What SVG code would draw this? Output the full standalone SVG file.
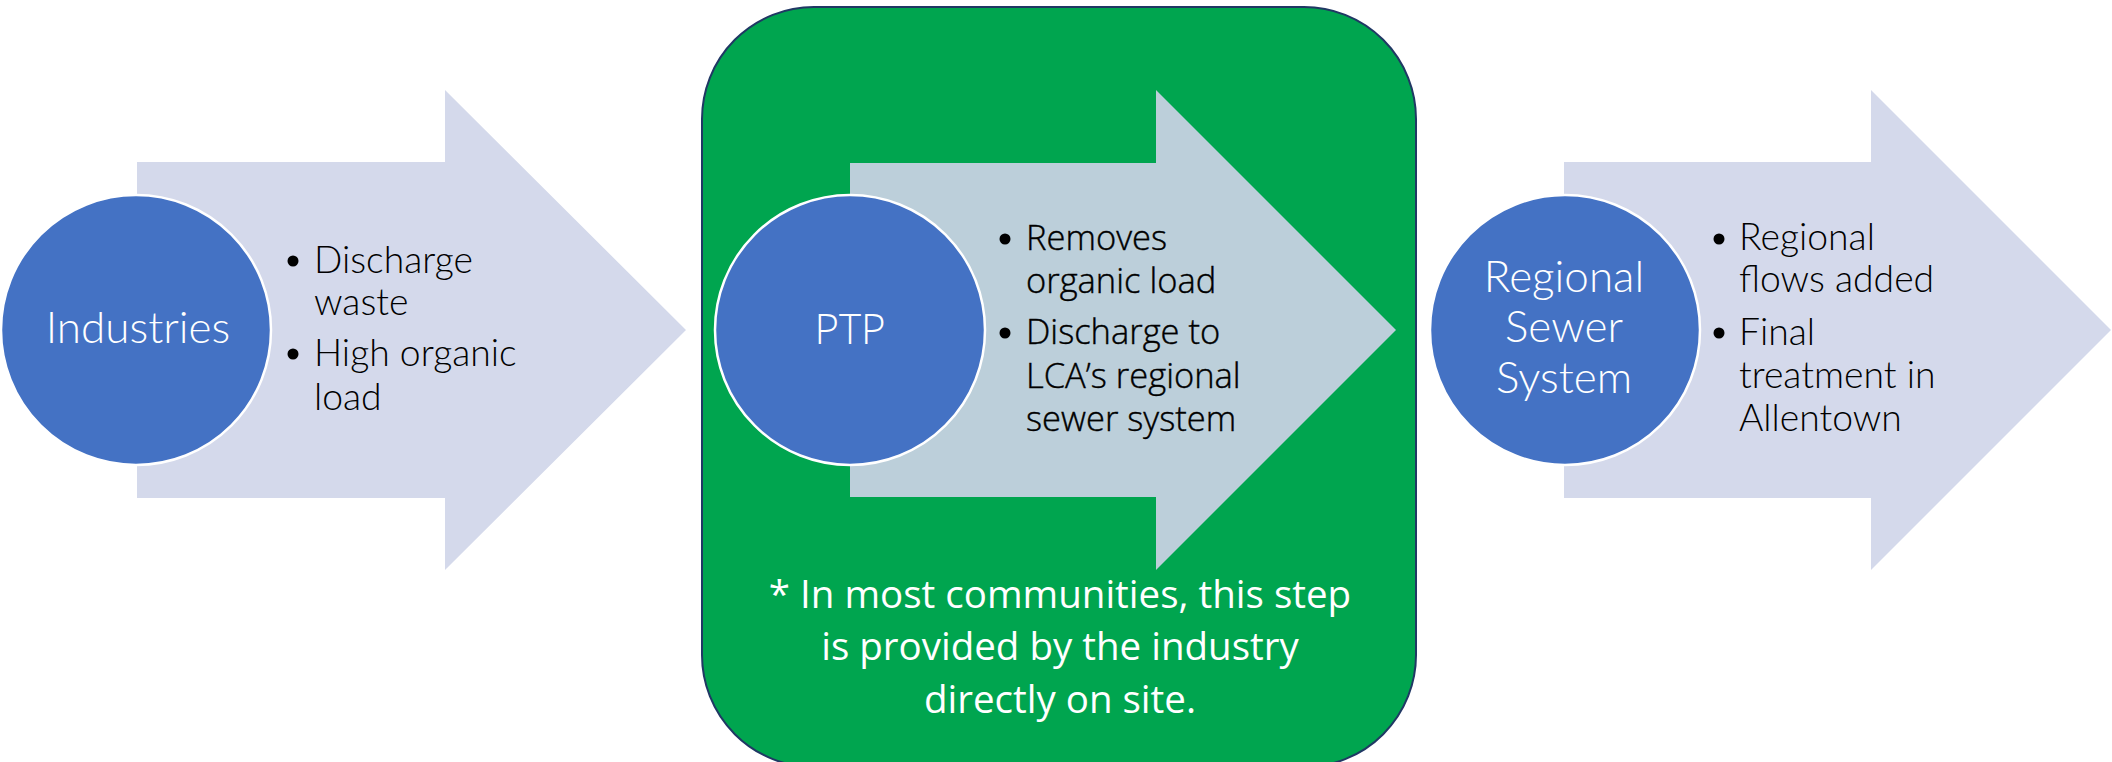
<svg xmlns="http://www.w3.org/2000/svg" width="2112" height="762" viewBox="0 0 2112 762">
<style>
.arrow{fill:#D4D9EB}
.arrowp{fill:#BCCFDA}
.circ{fill:#4472C4;stroke:#FFFFFF;stroke-width:2.5}
.ctext{font-family:Lato,"Liberation Sans",sans-serif;font-weight:300;font-size:44px;fill:#FFFFFF;text-anchor:middle}
.ctextp{font-family:"Open Sans","Liberation Sans",sans-serif;font-weight:300;font-size:42px;fill:#FFFFFF;text-anchor:middle}
.btext{font-family:Lato,"Liberation Sans",sans-serif;font-weight:300;font-size:37.3px;fill:#000000}
.btextp{font-family:"Open Sans","Liberation Sans",sans-serif;font-weight:300;font-size:34.5px;fill:#000000;stroke:#000000;stroke-width:0.4}
.note{font-family:"Open Sans","Liberation Sans",sans-serif;font-size:38.5px;fill:#FFFFFF;text-anchor:middle}
.dot{fill:#000000}
</style>
<rect width="2112" height="762" fill="#FFFFFF"/>
<g id="ptp-box">
<rect x="702" y="7" width="714" height="760" rx="112" ry="112" fill="#00A54F" stroke="#203864" stroke-width="2"/>
</g>
<g id="connectors">
<polygon class="arrow" points="137,162 445,162 445,90 686,330 445,570 445,498 137,498"/>
<polygon class="arrowp" points="850,163 1156,163 1156,90 1396,330 1156,570 1156,497 850,497"/>
<polygon class="arrow" points="1564,162 1871,162 1871,90 2111,330 1871,570 1871,498 1564,498"/>
</g>
<g id="industries">
<circle class="circ" cx="136" cy="330" r="135"/>
<text class="ctext" x="138" y="343">Industries</text>
<circle class="dot" cx="293" cy="261" r="5.5"/>
<text class="btext" x="314" y="273">Discharge</text>
<text class="btext" x="314" y="315">waste</text>
<circle class="dot" cx="293" cy="354" r="5.5"/>
<text class="btext" x="314" y="366">High organic</text>
<text class="btext" x="314" y="410">load</text>
</g>
<g id="ptp">
<circle class="circ" cx="850" cy="330" r="135"/>
<text class="ctextp" x="850" y="344">PTP</text>
<circle class="dot" cx="1005" cy="239" r="5.5"/>
<text class="btextp" x="1026" y="250">Removes</text>
<text class="btextp" x="1026" y="293">organic load</text>
<circle class="dot" cx="1005" cy="333" r="5.5"/>
<text class="btextp" x="1026" y="344">Discharge to</text>
<text class="btextp" x="1026" y="388">LCA’s regional</text>
<text class="btextp" x="1026" y="431">sewer system</text>
<text class="note" x="1060" y="608">* In most communities, this step</text>
<text class="note" x="1060" y="660">is provided by the industry</text>
<text class="note" x="1060" y="713">directly on site.</text>
</g>
<g id="regional">
<circle class="circ" cx="1565" cy="330" r="135"/>
<text class="ctext" x="1564" y="292">Regional</text>
<text class="ctext" x="1564" y="342">Sewer</text>
<text class="ctext" x="1564" y="393">System</text>
<circle class="dot" cx="1719" cy="239" r="5.5"/>
<text class="btext" x="1739" y="250">Regional</text>
<text class="btext" x="1739" y="292">flows added</text>
<circle class="dot" cx="1719" cy="333" r="5.5"/>
<text class="btext" x="1739" y="345">Final</text>
<text class="btext" x="1739" y="388">treatment in</text>
<text class="btext" x="1739" y="431">Allentown</text>
</g>
</svg>
